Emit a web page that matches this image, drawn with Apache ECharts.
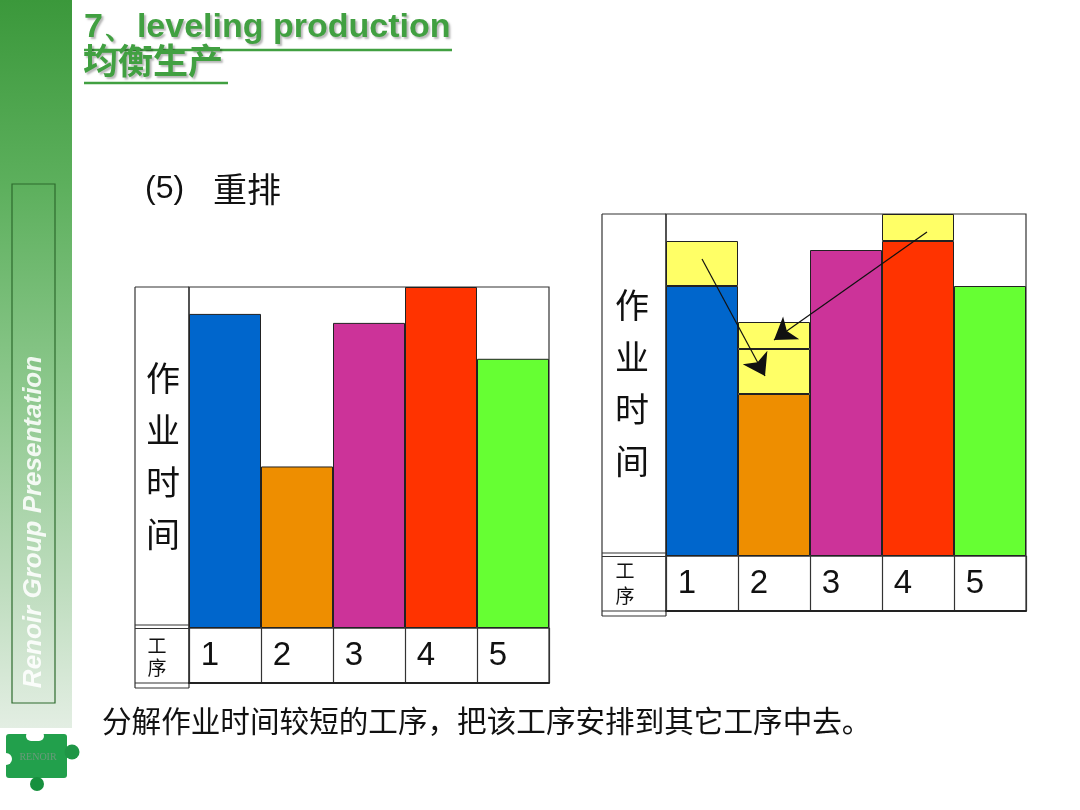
<!DOCTYPE html>
<html>
<head>
<meta charset="utf-8">
<script src="https://cdn.jsdelivr.net/npm/echarts@6/dist/echarts.min.js"></script>
<style>
html,body{margin:0;padding:0;background:#fff;}
#c{width:1080px;height:810px;}
</style>
</head>
<body>
<div id="c"></div>
<script>
// ---- data ----
const categories = ['1', '2', '3', '4', '5'];
const beforeTimes = [35, 18, 34, 38, 30];
const afterBase = [30, 18, 34, 35, 30];
const movedFrom1 = [5, 5, null, null, null];
const movedFrom4 = [null, 3, null, 3, null];
const barColors = ['#0066cc', '#ee8e00', '#cc3399', '#ff3300', '#66ff33'];
const movedColor = '#ffff66';
const arrowFrom1 = [[0, 33], [0.875, 20]];
const arrowFrom4 = [[3.125, 36], [1, 24]];
const yMax = 38;

const chart = echarts.init(document.getElementById('c'), null, {renderer: 'canvas'});
const CJK = '"Noto Sans CJK SC", "Noto Sans", sans-serif';
const LINE = '#333';

function tableAxis(gi) {
  return {
    type: 'category', data: categories, gridIndex: gi, position: 'bottom',
    axisLine: {show: true, lineStyle: {color: '#222', width: 2}},
    axisTick: {show: false},
    splitLine: {show: true, lineStyle: {color: LINE, width: 1.2}},
    axisLabel: {inside: true, margin: 27, verticalAlign: 'middle', fontSize: 33,
      fontFamily: 'Liberation Sans, Arial, sans-serif', color: '#111', padding: [0, 30, 0, 0]}
  };
}
function barAxis(gi) {
  return {type: 'category', data: categories, gridIndex: gi, show: false};
}
function valAxis(gi, max) {
  return {type: 'value', gridIndex: gi, min: 0, max: max, show: false};
}
function colored(arr) {
  return arr.map((v, i) => ({value: v, itemStyle: {color: barColors[i]}}));
}
const barItem = {borderColor: '#222', borderWidth: 1};

function frameLines(x0, x1, top, sep, bot) {
  const ls = {stroke: LINE, lineWidth: 1.2};
  return [
    {type: 'line', shape: {x1: x0, y1: top, x2: x1, y2: top}, style: ls},
    {type: 'line', shape: {x1: x0, y1: top, x2: x0, y2: bot + 5}, style: ls},
    {type: 'line', shape: {x1: x1, y1: top, x2: x1, y2: bot + 5}, style: ls},
    {type: 'line', shape: {x1: x0, y1: sep - 3.5, x2: x1, y2: sep - 3.5}, style: ls},
    {type: 'line', shape: {x1: x0, y1: sep, x2: x1, y2: sep}, style: ls},
    {type: 'line', shape: {x1: x0, y1: bot, x2: x1, y2: bot}, style: ls},
    {type: 'line', shape: {x1: x0, y1: bot + 5, x2: x1, y2: bot + 5}, style: ls}
  ];
}

const titleGreen = '#41a041';
const shadow = {textShadowColor: 'rgba(0,0,0,0.28)', textShadowOffsetX: 2, textShadowOffsetY: 2, textShadowBlur: 2};
const graphics = [
  // sidebar
  {type: 'rect', shape: {x: 0, y: 0, width: 72, height: 728}, z: -10,
   style: {fill: new echarts.graphic.LinearGradient(0, 0, 0, 1, [
     {offset: 0, color: '#3b983b'}, {offset: 0.25, color: '#5caf5c'},
     {offset: 0.55, color: '#8fc98f'}, {offset: 0.8, color: '#bddcbd'},
     {offset: 1, color: '#e3eee3'}])}},
  {type: 'rect', shape: {x: 12, y: 184, width: 43, height: 519},
   style: {fill: 'none', stroke: '#2d6b2d', lineWidth: 1.2}},
  {type: 'text', x: 34, y: 522, rotation: Math.PI / 2,
   style: {text: 'Renoir Group Presentation', font: 'italic bold 26px "Liberation Sans", Arial, sans-serif',
     fill: 'rgba(255,255,255,0.88)', align: 'center', verticalAlign: 'middle'}},
  // puzzle logo
  {type: 'group', children: [
    {type: 'rect', shape: {x: 6, y: 734, width: 61, height: 44, r: 3}, style: {fill: '#22a04c'}},
    {type: 'circle', shape: {cx: 72, cy: 752, r: 7.5}, style: {fill: '#1f9646'}},
    {type: 'circle', shape: {cx: 37, cy: 784, r: 7}, style: {fill: '#17903e'}},
    {type: 'rect', shape: {x: 26, y: 731, width: 18, height: 10, r: 5}, style: {fill: '#ffffff'}},
    {type: 'circle', shape: {cx: 6, cy: 759, r: 6}, style: {fill: '#ffffff'}},
    {type: 'text', x: 38, y: 757, style: {text: 'RENOIR', font: '10px "Liberation Serif", serif',
       fill: '#6a9a7a', align: 'center', verticalAlign: 'middle'}}
  ]},
  // title
  {type: 'text', x: 84, y: 28, style: Object.assign({text: '7、leveling production',
     font: 'bold 34px "Liberation Sans", Arial, sans-serif', fill: titleGreen, verticalAlign: 'middle'}, shadow)},
  {type: 'line', shape: {x1: 84, y1: 50, x2: 452, y2: 50}, style: {stroke: titleGreen, lineWidth: 2.5}},
  {type: 'text', x: 83, y: 61, style: Object.assign({text: '均衡生产',
     font: 'bold 35px ' + CJK, fill: titleGreen, verticalAlign: 'middle'}, shadow)},
  {type: 'line', shape: {x1: 84, y1: 83, x2: 228, y2: 83}, style: {stroke: titleGreen, lineWidth: 2.5}},
  // subtitle
  {type: 'text', x: 145, y: 189, style: {text: '(5)', font: '32px "Liberation Sans", Arial, sans-serif', fill: '#111',
     verticalAlign: 'middle'}},
  {type: 'text', x: 213, y: 189, style: {text: '重排', font: '34px ' + CJK, fill: '#111',
     verticalAlign: 'middle'}},
  // bottom note
  {type: 'text', x: 102, y: 721, style: {text: '分解作业时间较短的工序，把该工序安排到其它工序中去。',
     font: '29.6px ' + CJK, fill: '#111', verticalAlign: 'middle'}},
  // vertical labels
  {type: 'text', x: 163, y: 456, style: {text: '作\n业\n时\n间', font: '34px ' + CJK, lineHeight: 52,
     fill: '#111', align: 'center', verticalAlign: 'middle'}},
  {type: 'text', x: 632, y: 383, style: {text: '作\n业\n时\n间', font: '34px ' + CJK, lineHeight: 52,
     fill: '#111', align: 'center', verticalAlign: 'middle'}},
  {type: 'text', x: 157, y: 657, style: {text: '工\n序', font: '19px ' + CJK, lineHeight: 22,
     fill: '#111', align: 'center', verticalAlign: 'middle'}},
  {type: 'text', x: 625, y: 583, style: {text: '工\n序', font: '19px ' + CJK, lineHeight: 25,
     fill: '#111', align: 'center', verticalAlign: 'middle'}}
].concat(frameLines(135, 189, 287, 628.5, 683), frameLines(602, 666, 214, 556.5, 611));

const option = {
  animation: false,
  backgroundColor: '#fff',
  grid: [
    {left: 189, top: 287, width: 360, height: 341, show: true, borderColor: LINE, borderWidth: 1.2},
    {left: 189, top: 628, width: 360, height: 55, show: true, borderColor: LINE, borderWidth: 1.2},
    {left: 666, top: 214, width: 360, height: 342, show: true, borderColor: LINE, borderWidth: 1.2},
    {left: 666, top: 556, width: 360, height: 55, show: true, borderColor: LINE, borderWidth: 1.2}
  ],
  xAxis: [barAxis(0), tableAxis(1), barAxis(2), tableAxis(3),
    {type: 'value', gridIndex: 2, min: -0.5, max: 4.5, show: false}],
  yAxis: [valAxis(0, yMax), valAxis(1, 1), valAxis(2, yMax), valAxis(3, 1)],
  series: [
    {type: 'bar', name: 'before', xAxisIndex: 0, yAxisIndex: 0, data: colored(beforeTimes),
     barWidth: '100%', barCategoryGap: 0, itemStyle: barItem},
    {type: 'bar', name: 'after', xAxisIndex: 2, yAxisIndex: 2, stack: 'a', data: colored(afterBase),
     barWidth: '100%', barCategoryGap: 0, itemStyle: barItem},
    {type: 'bar', name: 'moved1', xAxisIndex: 2, yAxisIndex: 2, stack: 'a', data: movedFrom1,
     barWidth: '100%', barCategoryGap: 0, itemStyle: Object.assign({color: movedColor}, barItem)},
    {type: 'bar', name: 'moved4', xAxisIndex: 2, yAxisIndex: 2, stack: 'a', data: movedFrom4,
     barWidth: '100%', barCategoryGap: 0, itemStyle: Object.assign({color: movedColor}, barItem)},
    {type: 'lines', coordinateSystem: 'cartesian2d', xAxisIndex: 4, yAxisIndex: 2, z: 10,
     symbol: ['none', 'arrow'], symbolSize: 21,
     lineStyle: {color: '#111', width: 1.2, opacity: 1, curveness: 0},
     data: [{coords: arrowFrom1}, {coords: arrowFrom4}]}
  ],
  graphic: graphics
};
chart.setOption(option);
</script>
</body>
</html>
